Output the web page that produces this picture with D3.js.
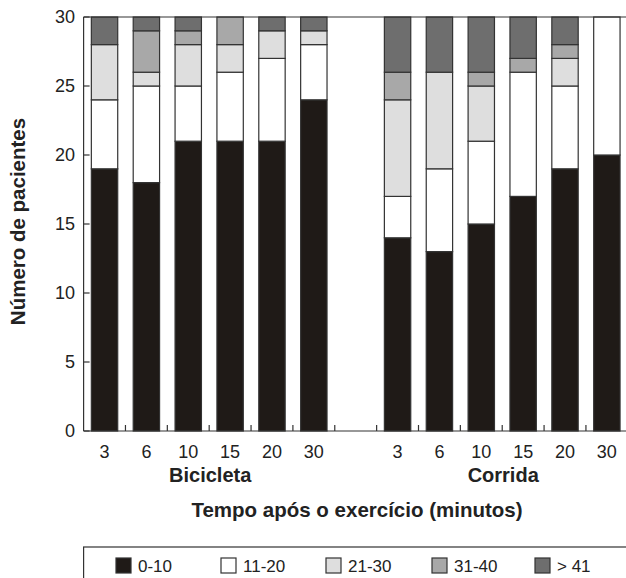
<!DOCTYPE html>
<html><head><meta charset="utf-8">
<script src="https://cdn.jsdelivr.net/npm/d3@7"></script>
<style>body{margin:0;background:#fff}svg{display:block;font-family:"Liberation Sans",Arial,Helvetica,sans-serif}</style>
</head><body>
<svg id="c" width="626" height="578"></svg>
<script>
const groups = ["Bicicleta", "Corrida"];
const times = ["3", "6", "10", "15", "20", "30"];
const seriesNames = ["0-10", "11-20", "21-30", "31-40", "> 41"];
const colors = ["#1f1a17", "#ffffff", "#dedede", "#a8a8a8", "#6e6e6e"];
const bike0_10  = [19, 18, 21, 21, 21, 24];
const bike11_20 = [5, 7, 4, 5, 6, 4];
const bike21_30 = [4, 1, 3, 2, 2, 1];
const bike31_40 = [0, 3, 1, 2, 0, 0];
const bike41    = [2, 1, 1, 0, 1, 1];
const run0_10   = [14, 13, 15, 17, 19, 20];
const run11_20  = [3, 6, 6, 9, 6, 10];
const run21_30  = [7, 7, 4, 0, 2, 0];
const run31_40  = [2, 0, 1, 1, 1, 0];
const run41     = [4, 4, 4, 3, 2, 0];
const yTicks = [0, 5, 10, 15, 20, 25, 30];

const bikeSeries = [bike0_10, bike11_20, bike21_30, bike31_40, bike41];
const runSeries = [run0_10, run11_20, run21_30, run31_40, run41];

// rows: 6 bike, a gap, 6 run
const rows = [];
times.forEach((t, i) => { const r = {key: "B" + t, label: t}; seriesNames.forEach((s, k) => r[s] = bikeSeries[k][i]); rows.push(r); });
rows.push({key: "gap", label: "", ...Object.fromEntries(seriesNames.map(s => [s, 0]))});
times.forEach((t, i) => { const r = {key: "C" + t, label: t}; seriesNames.forEach((s, k) => r[s] = runSeries[k][i]); rows.push(r); });

const svg = d3.select("#c");
const x0 = 83.6, x1 = 627.8, yTop = 17, yBot = 431;
const x = d3.scaleBand().domain(rows.map(r => r.key)).range([x0, x1]).paddingInner(0.37).paddingOuter(0.185);
const y = d3.scaleLinear().domain([0, 30]).range([yBot, yTop]);
const color = d3.scaleOrdinal().domain(seriesNames).range(colors);

const stacked = d3.stack().keys(seriesNames)(rows);

const g = svg.append("g");
stacked.forEach(layer => {
  g.append("g").selectAll("rect")
    .data(layer.filter(d => d[1] - d[0] > 0))
    .join("rect")
    .attr("x", d => x(d.data.key))
    .attr("width", x.bandwidth())
    .attr("y", d => y(d[1]))
    .attr("height", d => y(d[0]) - y(d[1]))
    .attr("fill", color(layer.key))
    .attr("stroke", "#333")
    .attr("stroke-width", 1.2);
});

// frame: left and top lines, baseline
const axisColor = "#333";
svg.append("line").attr("x1", x0).attr("x2", 626).attr("y1", yTop).attr("y2", yTop).attr("stroke", axisColor).attr("stroke-width", 1.2);
svg.append("line").attr("x1", x0).attr("x2", x0).attr("y1", yTop).attr("y2", yBot).attr("stroke", axisColor).attr("stroke-width", 1.2);
svg.append("line").attr("x1", x0).attr("x2", 626).attr("y1", yBot).attr("y2", yBot).attr("stroke", axisColor).attr("stroke-width", 1.2);

// y ticks (inward) and labels
svg.append("g").selectAll("line").data(yTicks).join("line")
  .attr("x1", x0).attr("x2", x0 + 6).attr("y1", d => y(d)).attr("y2", d => y(d))
  .attr("stroke", axisColor).attr("stroke-width", 1.2);
svg.append("g").selectAll("text").data(yTicks).join("text")
  .attr("x", 75).attr("y", d => y(d)).attr("dy", "0.36em").attr("text-anchor", "end")
  .attr("font-size", 18).attr("fill", "#222").text(d => d);

// x ticks at slot boundaries (inward)
const step = x.step();
const bounds = d3.range(1, rows.length).map(i => x0 + i * step);
svg.append("g").selectAll("line").data(bounds).join("line")
  .attr("x1", d => d).attr("x2", d => d).attr("y1", yBot).attr("y2", yBot - 6)
  .attr("stroke", axisColor).attr("stroke-width", 1.2);

// x tick labels
svg.append("g").selectAll("text").data(rows.filter(r => r.label)).join("text")
  .attr("x", d => x(d.key) + x.bandwidth() / 2).attr("y", 457.5)
  .attr("text-anchor", "middle").attr("font-size", 18).attr("fill", "#222").text(d => d.label);

// group labels
groups.forEach((gname, i) => {
  const first = rows[i * 7].key, last = rows[i * 7 + 5].key;
  const cx = (x(first) + x(last) + x.bandwidth()) / 2;
  svg.append("text").attr("x", cx + 1).attr("y", 481.5).attr("text-anchor", "middle")
    .attr("font-size", 20).attr("font-weight", "bold").attr("fill", "#222").text(gname);
});

// axis titles
svg.append("text").attr("x", 357).attr("y", 516.5).attr("text-anchor", "middle")
  .attr("font-size", 20.5).attr("font-weight", "bold").attr("fill", "#222").text("Tempo após o exercício (minutos)");
svg.append("text").attr("transform", "translate(24.5,221.5) rotate(-90)").attr("text-anchor", "middle")
  .attr("font-size", 20.5).attr("font-weight", "bold").attr("fill", "#222").text("Número de pacientes");

// legend
svg.append("rect").attr("x", x0).attr("y", 547).attr("width", 600).attr("height", 60)
  .attr("fill", "none").attr("stroke", axisColor).attr("stroke-width", 1.2);
const legX = [116, 221, 326, 432, 535];
const leg = svg.append("g").selectAll("g").data(seriesNames).join("g")
  .attr("transform", (d, i) => `translate(${legX[i]},558)`);
leg.append("rect").attr("width", 15).attr("height", 15).attr("fill", d => color(d)).attr("stroke", "#333").attr("stroke-width", 1.2);
leg.append("text").attr("x", 22).attr("y", 7.5).attr("dy", "0.36em").attr("font-size", 17).attr("fill", "#222").text(d => d);
</script>
</body></html>
